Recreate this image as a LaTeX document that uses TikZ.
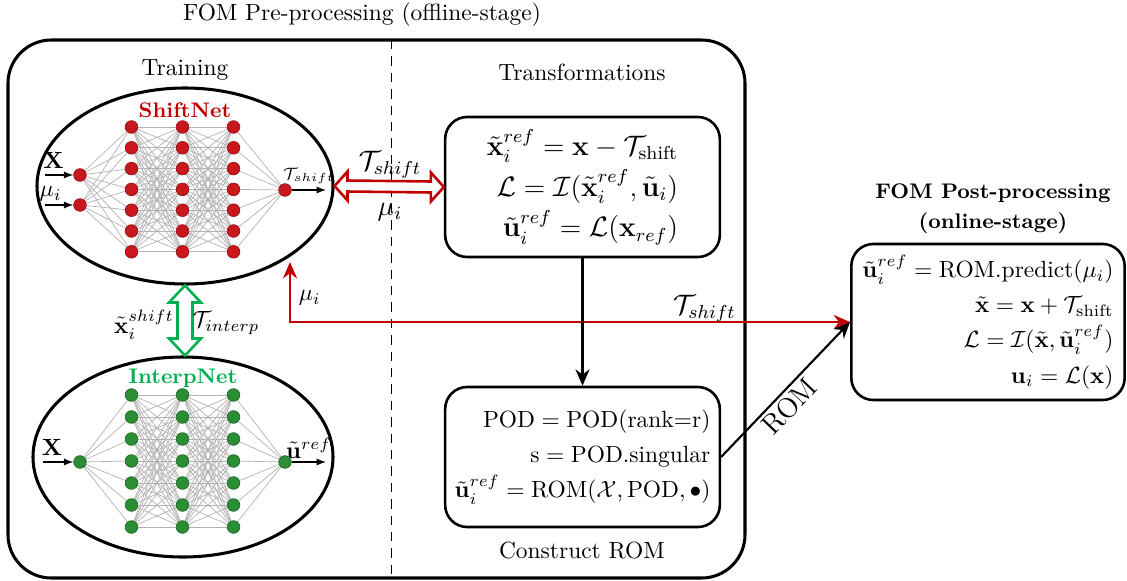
\documentclass[tikz,border=0pt]{standalone}
\usepackage{amsmath}
\usetikzlibrary{arrows.meta,calc,shapes.geometric,backgrounds}

\definecolor{shiftred}{RGB}{192,0,0}
\definecolor{neuronred}{RGB}{200,24,30}
\definecolor{interpgreen}{RGB}{0,176,80}
\definecolor{neurongreen}{RGB}{44,142,52}

\tikzset{
    neuronR/.style={circle, inner sep=0pt, minimum size=0.19cm, fill=neuronred, draw=neuronred!75!black, line width=0.3pt},
    neuronG/.style={neuronR, fill=neurongreen, draw=neurongreen!75!black},
    synapse/.style={draw=gray!60, line width=0.3pt},
    netframe/.style={draw, ellipse, line width=1.3pt, inner sep=0pt},
    eqbox/.style={draw, rounded corners=0.33cm, line width=1.1pt, align=right, minimum width=4.12cm, minimum height=2.1cm},
    netio/.style={-{Latex[length=4pt,width=3pt]}, line width=0.5pt},
    flow/.style={-{Stealth[length=7pt,width=6pt]}, line width=0.9pt},
    redflow/.style={{Stealth[length=7pt,width=6pt]}-{Stealth[length=7pt,width=6pt]}, draw=shiftred, line width=0.9pt},
    hollowR/.style={draw=shiftred, fill=white, line width=1.1pt, line join=miter},
    hollowG/.style={hollowR, draw=interpgreen},
}

\begin{document}
\begin{tikzpicture}[x=0.015cm, y=-0.015cm]
    \useasboundingbox (0, 0) rectangle (1127, 581);
    % \draw[help lines, step=50] (0, 0) grid (1127, 581);

    \draw node (pretitle) at (362, 15) {FOM Pre-processing (offline-stage)};
    \draw[line width=1.3pt, rounded corners=0.65cm] (8, 40) rectangle (745, 578);
    \draw[dashed, dash pattern=on 4pt off 3pt] (391, 40) -- (391, 578);

    \draw node (traintitle) at (185, 70) {Training};
    \draw node (transtitle) at (582, 72) {Transformations};
    \draw node (romtitle) at (582, 550) {Construct ROM};
    \draw node[align=center, font=\small\bfseries] (posttitle) at (993, 209) {FOM Post-processing\\[2pt](online-stage)};

    % ShiftNet
    \node[netframe, minimum width=4.44cm, minimum height=2.94cm] (shiftnet) at (185, 186) {};
    \draw node[font=\small\bfseries, text=shiftred] (shiftlbl) at (185, 110) {ShiftNet};
    \foreach \j/\y in {1/175, 2/205}
        \node[neuronR] (s-0-\j) at (80, \y) {};
    \foreach \l/\x in {1/131.5, 2/182.5, 3/233.5}
        \foreach \j in {1,...,7}
            \node[neuronR] (s-\l-\j) at (\x, {127+20.8*(\j-1)}) {};
    \node[neuronR] (s-4-1) at (285, 190) {};
    \begin{scope}[on background layer]
        \foreach \i in {1,2}
            \foreach \j in {1,...,7}
                \draw[synapse] (s-0-\i) -- (s-1-\j);
        \foreach \l/\m in {1/2, 2/3}
            \foreach \i in {1,...,7}
                \foreach \j in {1,...,7}
                    \draw[synapse] (s-\l-\i) -- (s-\m-\j);
        \foreach \i in {1,...,7}
            \draw[synapse] (s-3-\i) -- (s-4-1);
    \end{scope}
    \coordinate (sinX) at (45, 175);
    \coordinate (sinmu) at (45, 205);
    \coordinate (sout) at (326, 190);
    \draw[netio] (sinX) -- (s-0-1) node[pos=0.3, above=-1pt] {$\mathbf{X}$};
    \draw[netio] (sinmu) -- (s-0-2) node[pos=0.2, above=-2pt] {$\mu_i$};
    \draw[netio] (s-4-1) -- (sout) node[pos=0.5, above=-1pt, font=\scriptsize] {$\mathcal{T}_{shift}$};

    % InterpNet
    \node[netframe, minimum width=4.5cm, minimum height=3.0cm] (interpnet) at (183, 457) {};
    \draw node[font=\small\bfseries, text=interpgreen] (interplbl) at (183, 378) {InterpNet};
    \node[neuronG] (g-0-1) at (80, 462) {};
    \foreach \l/\x in {1/131.5, 2/182.5, 3/233.5}
        \foreach \j in {1,...,7}
            \node[neuronG] (g-\l-\j) at (\x, {395+22*(\j-1)}) {};
    \node[neuronG] (g-4-1) at (285, 462) {};
    \begin{scope}[on background layer]
        \foreach \j in {1,...,7}
            \draw[synapse] (g-0-1) -- (g-1-\j);
        \foreach \l/\m in {1/2, 2/3}
            \foreach \i in {1,...,7}
                \foreach \j in {1,...,7}
                    \draw[synapse] (g-\l-\i) -- (g-\m-\j);
        \foreach \i in {1,...,7}
            \draw[synapse] (g-3-\i) -- (g-4-1);
    \end{scope}
    \coordinate (ginX) at (43, 462);
    \coordinate (gout) at (326, 462);
    \draw[netio] (ginX) -- (g-0-1) node[pos=0.3, above=-1pt] {$\mathbf{X}$};
    \draw[netio] (g-4-1) -- (gout) node[pos=0.5, above=-2pt] {$\tilde{\mathbf{u}}^{ref}$};

    % equation boxes
    \node[eqbox, font=\large] (trans) at (582.5, 187) {%
        $\tilde{\mathbf{x}}_i^{ref} = \mathbf{x} - \mathcal{T}_{\text{shift}}$\\[2pt]
        $\mathcal{L} = \mathcal{I}(\tilde{\mathbf{x}}_i^{ref}, \tilde{\mathbf{u}}_i)$\\[2pt]
        $\tilde{\mathbf{u}}_i^{ref} = \mathcal{L}(\mathbf{x}_{ref})$};
    \node[eqbox] (rom) at (582.5, 457) {%
        $\mathrm{POD} = \mathrm{POD}(\text{rank=r})$\\[3pt]
        $\text{s} = \text{POD.singular}$\\[3pt]
        $\tilde{\mathbf{u}}_i^{ref} = \mathrm{ROM}(\mathcal{X}, \mathrm{POD}, \bullet)$};
    \node[eqbox, minimum width=4.1cm, minimum height=2.34cm] (post) at (988, 322) {%
        $\tilde{\mathbf{u}}_i^{ref} = \text{ROM.predict}(\mu_i)$\\[3pt]
        $\tilde{\mathbf{x}} = \mathbf{x} + \mathcal{T}_{\text{shift}}$\\[3pt]
        $\mathcal{L} = \mathcal{I}(\tilde{\mathbf{x}}, \tilde{\mathbf{u}}_i^{ref})$\\[3pt]
        $\mathbf{u}_i = \mathcal{L}(\mathbf{x})$};

    % hollow double arrows
    \draw[hollowR] (shiftnet.east) -- ++(13, -14.5) -- ++(0, 9)
        -- ($(trans.west)+(-13, -5.5)$) -- ++(0, -9) -- (trans.west)
        -- ++(-13, 14.5) -- ++(0, -9)
        -- ($(shiftnet.east)+(13, 5.5)$) -- ++(0, 9) -- cycle;
    \draw node[font=\large] (tshiftlbl) at (390, 165) {$\mathcal{T}_{shift}$};
    \draw node[font=\large] (mulbl) at (390, 212) {$\mu_i$};
    \coordinate (gtop) at (shiftnet.south);
    \coordinate (gbot) at (gtop |- interpnet.north);
    \draw[hollowG] (gtop) -- ++(-16, 17) -- ++(8.5, 0)
        -- ($(gbot)+(-7.5, -17)$) -- ++(-8.5, 0) -- (gbot)
        -- ++(16, -17) -- ++(-8.5, 0)
        -- ($(gtop)+(7.5, 17)$) -- ++(8.5, 0) -- cycle;
    \draw node (xshiftlbl) at (144, 325) {$\tilde{\mathbf{x}}_i^{shift}$};
    \draw node (tinterplbl) at (226, 323) {$\mathcal{T}_{interp}$};

    % connectors
    \coordinate (mutop) at (290, 262);
    \draw[redflow] (mutop) |- (post.west)
        node[pos=0.3, right, text=black] {$\mu_i$}
        node[pos=0.87, above=-4pt, text=black, font=\large] {$\mathcal{T}_{shift}$};
    \draw[flow] (trans.south) -- (rom.north);
    \draw[flow] (rom.east) -- (post.west) node[pos=0.45, below=-2pt, sloped, font=\large] {ROM};
\end{tikzpicture}
\end{document}
